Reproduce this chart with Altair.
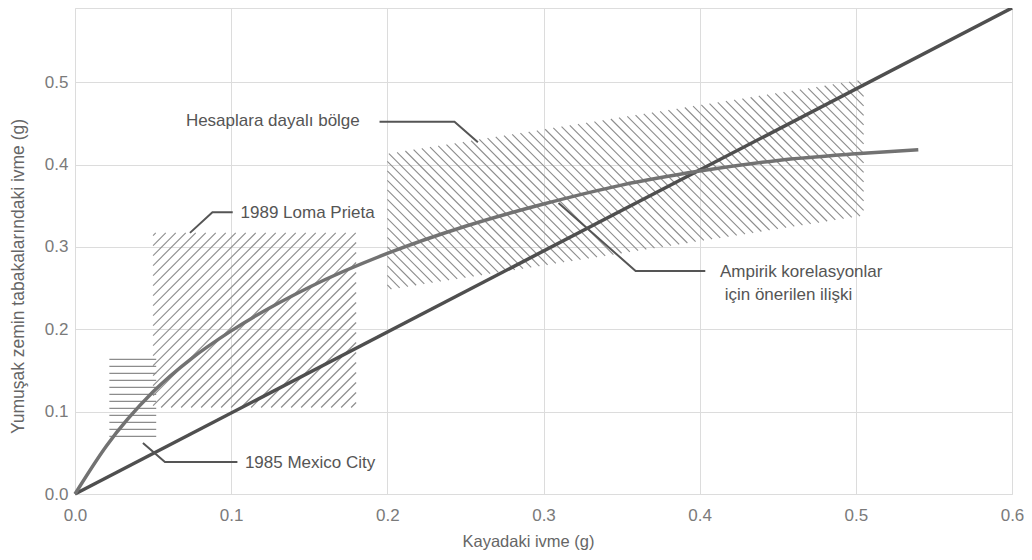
import altair as alt
import numpy as np
import pandas as pd

# ---- data ----
curve_x = [0.0, 0.02, 0.05, 0.075, 0.1, 0.15, 0.2, 0.25, 0.3, 0.35, 0.4, 0.45, 0.5, 0.54]
curve_y = [0.0, 0.058, 0.124, 0.165, 0.198, 0.251, 0.292, 0.325, 0.352, 0.375, 0.392, 0.405, 0.413, 0.418]

line_x = [0.0, 0.6]
line_y = [0.0, 0.59]

# regions: x0, x1, lower(x0), lower(x1), upper(x0), upper(x1)
mexico = [0.022, 0.052, 0.07, 0.07, 0.168, 0.168]
loma = [0.05, 0.18, 0.105, 0.105, 0.317, 0.317]
hesap = [0.2, 0.505, 0.248, 0.338, 0.413, 0.503]

labels = ["Hesaplara dayalı bölge", "1989 Loma Prieta", "Ampirik korelasyonlar",
          "için önerilen ilişki", "1985 Mexico City"]
label_x = [0.071, 0.106, 0.413, 0.416, 0.1088]
label_y = [0.453, 0.341, 0.2695, 0.2416, 0.0376]

leaders = {
    "hesap": ([0.195, 0.243, 0.258], [0.452, 0.452, 0.427]),
    "loma": ([0.101, 0.088, 0.0736], [0.342, 0.342, 0.317]),
    "ampirik": ([0.4036, 0.359, 0.3096], [0.2707, 0.2707, 0.3533]),
    "mexico": ([0.104, 0.0576, 0.0435], [0.0388, 0.0388, 0.062]),
}

x_ticks = [0.0, 0.1, 0.2, 0.3, 0.4, 0.5, 0.6]
y_ticks = [0.0, 0.1, 0.2, 0.3, 0.4, 0.5]

W, H = 937, 486
XMAX, YMAX = 0.6, 0.59
KX, KY = W / XMAX, H / YMAX  # px per unit
FONT = "Liberation Sans"


def hatch(region, direction, step_px):
    x0, x1, l0, l1, u0, u1 = region
    lb = (l1 - l0) / (x1 - x0)
    la = l0 - lb * x0
    ub = (u1 - u0) / (x1 - x0)
    ua = u0 - ub * x0
    segs = []
    if direction == 0:
        ys = np.arange(l0, u0 + 1e-9, step_px / KY)
        for y in ys:
            segs.append((x0, y, x1, y))
        return segs
    s = direction * KX / KY  # 45 deg in pixel space
    corners = [(x0, l0), (x0, u0), (x1, l1), (x1, u1)]
    cs = [y - s * x for x, y in corners]
    dc = abs(s) * step_px / KX
    c = min(cs) + dc / 2
    while c < max(cs):
        lo, hi = x0, x1
        d = s - lb
        if d > 0:
            lo = max(lo, (la - c) / d)
        elif d < 0:
            hi = min(hi, (la - c) / d)
        d = s - ub
        if d > 0:
            hi = min(hi, (ua - c) / d)
        elif d < 0:
            lo = max(lo, (ua - c) / d)
        if hi - lo > 1e-4:
            segs.append((lo, s * lo + c, hi, s * hi + c))
        c += dc
    return segs


segs = hatch(mexico, 0, 7.0) + hatch(loma, 1, 10.0) + hatch(hesap, -1, 9.5)
hatch_df = pd.DataFrame(segs, columns=["x", "y", "x2", "y2"])

xs = alt.Scale(domain=[0, XMAX], nice=False, zero=False)
ys = alt.Scale(domain=[0, YMAX], nice=False, zero=False)

x_axis = alt.Axis(values=x_ticks, format=".1f", ticks=False, domain=False, grid=True,
                  gridColor="#dcdcdc", labelColor="#7a7a7a", labelFontSize=17,
                  labelPadding=13, labelFont=FONT, labelFlush=False,
                  title="Kayadaki ivme (g)",
                  titleFont=FONT, titleFontSize=16.5, titleFontWeight="normal",
                  titleColor="#666666", titlePadding=10, titleX=453)
y_axis = alt.Axis(values=y_ticks, format=".1f", ticks=False, domain=False, grid=True,
                  gridColor="#dcdcdc", labelColor="#7a7a7a", labelFontSize=17,
                  labelPadding=7, labelFont=FONT, labelFlush=False,
                  title="Yumuşak zemin tabakalarındaki ivme (g)",
                  titleFont=FONT, titleFontSize=17.5, titleFontWeight="normal",
                  titleColor="#666666", titlePadding=17, titleY=268)

base_x = alt.X("x:Q", scale=xs, axis=x_axis)
base_y = alt.Y("y:Q", scale=ys, axis=y_axis)

hatch_layer = alt.Chart(hatch_df).mark_rule(color="#8c8c8c", strokeWidth=1.1).encode(
    x=base_x, y=base_y, x2="x2:Q", y2="y2:Q")

line_df = pd.DataFrame({"x": line_x, "y": line_y})
line_layer = alt.Chart(line_df).mark_line(color="#4f4f4f", strokeWidth=3.5).encode(
    x=alt.X("x:Q", scale=xs), y=alt.Y("y:Q", scale=ys))

curve_df = pd.DataFrame({"x": curve_x, "y": curve_y})
curve_layer = alt.Chart(curve_df).mark_line(color="#727272", strokeWidth=3.5,
                                            interpolate="monotone").encode(
    x=alt.X("x:Q", scale=xs), y=alt.Y("y:Q", scale=ys))

rows = []
for name, (lx, ly) in leaders.items():
    for i, (a, b) in enumerate(zip(lx, ly)):
        rows.append({"id": name, "o": i, "x": a, "y": b})
lead_df = pd.DataFrame(rows)
lead_layer = alt.Chart(lead_df).mark_line(color="#555555", strokeWidth=2).encode(
    x=alt.X("x:Q", scale=xs), y=alt.Y("y:Q", scale=ys), detail="id:N", order="o:Q")

text_df = pd.DataFrame({"label": labels, "x": label_x, "y": label_y})
text_layer = alt.Chart(text_df).mark_text(align="left", baseline="middle", fontSize=17,
                                          font=FONT, color="#555555").encode(
    x=alt.X("x:Q", scale=xs), y=alt.Y("y:Q", scale=ys), text="label:N")

chart = alt.layer(hatch_layer, line_layer, curve_layer, lead_layer, text_layer).properties(
    width=W, height=H,
    autosize=alt.AutoSizeParams(type="none"),
    padding={"left": 67, "top": 0, "right": 12, "bottom": 58},
).configure_view(stroke="#8a8a8a", strokeWidth=2).configure(background="white")

chart.save("out.html", embed_options={"renderer": "svg", "actions": False})
